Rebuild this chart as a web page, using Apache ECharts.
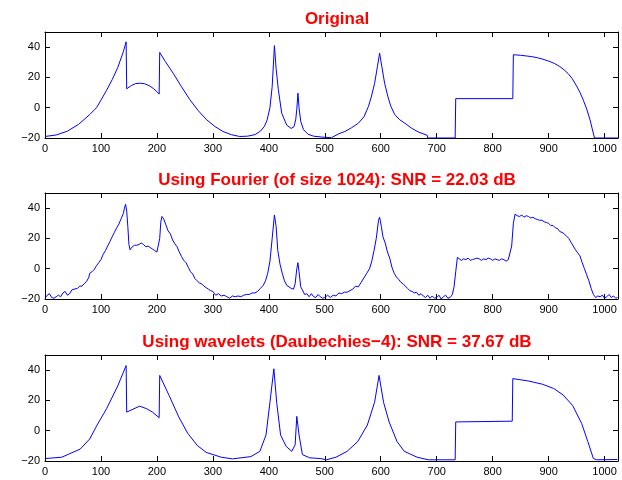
<!DOCTYPE html>
<html>
<head>
<meta charset="utf-8">
<script src="https://cdn.jsdelivr.net/npm/echarts@6/dist/echarts.min.js"></script>
<style>
html, body { margin: 0; padding: 0; background: #fff; }
#main { width: 622px; height: 480px; }
</style>
</head>
<body>
<div id="main"></div>
<script>
// panel titles
var titles = [
    'Original',
    'Using Fourier (of size 1024): SNR = 22.03 dB',
    'Using wavelets (Daubechies\u22124): SNR = 37.67 dB'
];

// original signal (sample index / value)
var origX = [0, 20, 40, 60, 80, 92, 100, 110, 120, 130, 140, 145,
    146, 155, 162, 170, 178, 186, 194, 200, 204,
    205, 215, 229, 244, 259, 274, 289, 304, 318, 333, 348, 362, 375, 385, 392, 397, 402, 406, 410,
    413, 417, 423, 432, 440, 445, 448, 450, 452, 454, 457, 462, 470, 480, 495, 512,
    513, 525, 536, 548, 560, 570, 578, 583, 589, 594, 598,
    602, 607, 613, 618, 625, 634, 643, 655, 667, 683,
    684, 733, 734, 836, 837, 850, 860, 870, 880, 890, 900, 910, 920, 928, 935, 942, 950, 956, 962, 968, 974, 978, 982, 1024];
var origY = [-19, -18, -15.5, -11, -4.5, 0, 5, 11.5, 18.5, 26.5, 37, 43.5,
    12.5, 14.8, 15.9, 16.2, 15.8, 14.6, 12.6, 10.6, 9,
    36.5, 30.5, 22.8, 13.8, 5.2, -2, -8, -12.5, -15.7, -17.8, -19, -18.8, -17.8, -15.5, -12.4, -8, 0, 14, 41,
    26, 12, -3.6, -11.5, -13.7, -12.5, -8, -1, 9.6, 0, -9, -14.5, -17.5, -18.8, -19.4, -19.8,
    -18.6, -17.2, -15.7, -13.2, -10.2, -6, 0.8, 7, 16, 27, 36,
    27, 16, 7, 1, -4.5, -8, -10.2, -13.5, -16, -18.2,
    -20, -20, 6, 6, 35, 34.6, 34.2, 33.7, 33, 32, 30.8, 29.3, 27.2, 24.9, 22.5, 19.3, 14.3, 10.2, 5, -0.8, -8, -14, -20, -20];

// fourier reconstruction
var fourX = [0, 4, 8, 12, 16, 20, 24, 28, 32, 36, 40, 44, 48, 52, 58, 62, 66, 70, 74, 78,
    80, 84, 88, 92, 96, 100, 104, 108, 112, 116, 120, 124, 128, 132, 136, 140, 142, 144, 146, 148,
    150, 152, 156, 160, 164, 168, 172, 176, 180, 184, 188, 192, 196, 200, 203, 205, 207, 209, 212, 216,
    220, 224, 228, 232, 236, 240, 244, 248, 252, 256, 260, 264, 268, 272, 276, 280, 284, 288, 292, 296,
    300, 305, 310, 315, 320, 325, 330, 335, 340, 345, 350, 355, 360, 365, 370, 375, 380, 385, 390, 394,
    398, 402, 406, 410, 413, 416, 420, 424, 428, 432, 436, 440, 444, 447, 450, 452, 454, 457, 460, 464,
    468, 472, 476, 480, 484, 488, 492, 496, 500, 505, 510, 515, 520, 525, 530, 535, 540, 545, 550, 555,
    560, 565, 570, 575, 580, 584, 588, 592, 596, 598, 601, 604, 608, 612, 616, 620, 624, 628, 632, 636,
    640, 644, 648, 652, 656, 660, 664, 668, 672, 676, 680, 684, 688, 692, 696, 700, 704, 708, 712, 716,
    720, 724, 728, 731, 734, 737, 740, 744, 748, 752, 756, 760, 764, 768, 772, 776, 780, 784, 788, 792,
    796, 800, 804, 808, 812, 816, 820, 824, 828, 831, 834, 837, 840, 844, 848, 852, 856, 860, 864, 868,
    872, 876, 880, 884, 888, 892, 896, 900, 904, 908, 912, 916, 920, 924, 928, 932, 936, 940, 944, 948,
    952, 956, 960, 964, 968, 972, 976, 980, 984, 988, 992, 996, 1000, 1004, 1008, 1012, 1016, 1020, 1023];
var fourY = [-19.5, -17.5, -16.5, -19, -19.5, -18.5, -17.5, -18.5, -16, -15, -17.5, -16.5, -14, -13.5, -13, -11.5, -11.5, -10, -8.5, -6,
    -3, -2, -0.5, 2, 4, 6, 9.5, 12, 15, 18, 21, 24, 27, 29.5, 33, 36.5, 40, 42.5, 38, 28,
    16, 12.5, 14.5, 15.5, 15.5, 16, 17, 16, 14.5, 15, 14, 13, 12, 11, 10.5, 20, 31, 34.5, 33, 29,
    25, 23, 19, 16.5, 14.5, 11, 8, 5.5, 4, 1, -2, -3.5, -6.5, -8, -9.5, -10, -11.5, -12.5, -13.5, -14.5,
    -15, -17.5, -16.5, -18, -17.5, -18.5, -19.5, -18, -18.5, -18, -18.5, -17.5, -17, -17, -16, -16, -15, -13, -11, -8,
    -3, 5, 20, 35.5, 28, 12, 3, -3, -8, -11, -12, -13, -13.5, -10, 0, 4, -2, -12, -14, -17,
    -16.5, -18.5, -16.5, -18.5, -19, -17, -18.5, -19.5, -19, -17.5, -19, -17.5, -18, -16, -16.5, -15.5, -15.5, -14.5, -13.5, -11.5,
    -12, -9, -6, -3, 0, 5, 12, 20, 32, 34, 28, 21, 17, 11, 7, 1, -3, -5.5, -7, -9,
    -10, -11.5, -13, -14.5, -15, -16, -15.5, -17.5, -16.5, -18, -19, -17.5, -19.5, -18, -19.5, -19, -17.5, -20, -18.5, -17.5,
    -19.5, -19, -17, -12, -2, 7.5, 6.5, 5.5, 6.5, 6, 7, 5.5, 6, 6.5, 7, 6.5, 5.5, 6.5, 6, 7,
    6.5, 5.5, 6.5, 6, 5.5, 6.5, 6, 5, 6, 5, 15, 30, 36, 35, 34.5, 35.5, 34, 35, 34.5, 33.5,
    34, 33, 32.5, 32, 32, 31, 30.5, 30, 28.5, 28.5, 27, 26.5, 24.5, 24, 23, 21.5, 20, 17.5, 15, 12.5,
    10.5, 8.5, 4, 0, -4, -8, -13, -17, -19, -18, -18.5, -17.5, -19.5, -18.5, -17, -19, -18, -19.5, -19];

// wavelet reconstruction
var waveX = [0, 30, 63, 80, 93, 110, 130, 145, 146, 169, 182, 192, 204, 205, 222, 239, 255, 272, 288, 315,
    335, 368, 384, 395, 402, 409, 414, 421, 431, 441, 447, 450, 454, 460, 473, 493, 503, 520, 540, 559,
    576, 589, 597, 605, 615, 629, 642, 665, 685, 733, 734, 835, 836, 863, 889, 909, 926, 943, 959, 970,
    980, 986, 1023];
var waveY = [-18.4, -17.5, -12.1, -5.4, 3.7, 14.5, 29.6, 43, 12.3, 16.2, 14.5, 12.3, 8.6, 36.5, 23.1, 9.1, -1.7, -9.7, -14.3, -17.5,
    -18.6, -17.1, -13.6, -2.8, 18.8, 40.9, 18.8, -2.8, -10.4, -13.6, -9.3, 9.5, -2.8, -15.8, -17.9, -18.4, -19.2, -17.5, -13.6, -7.1,
    3.7, 18.8, 36.5, 18.8, 5.8, -7.1, -13.6, -17.5, -19.2, -19.2, 5.8, 6.3, 34.4, 32.9, 30.7, 27.9, 23.6, 16.6, 4.8, -7.1,
    -18.4, -19.2, -19];

var xTickStep = 100;
var yTickStep = 20;

var chart = echarts.init(document.getElementById('main'));

var gridTops = [32, 193, 355];
var titleTops = [6, 167, 329];
var font = 'Liberation Sans, Arial, Helvetica, sans-serif';

function pairs(xs, ys) {
    return xs.map(function (x, i) { return [x, ys[i]]; });
}
var allData = [pairs(origX, origY), pairs(fourX, fourY), pairs(waveX, waveY)];

var option = {
    animation: false,
    backgroundColor: '#fff',
    title: [],
    grid: [],
    xAxis: [],
    yAxis: [],
    series: []
};

for (var i = 0; i < 3; i++) {
    option.title.push({
        text: titles[i],
        left: 332,
        top: titleTops[i],
        textAlign: 'center',
        textStyle: { color: '#ff0000', fontSize: 17, fontWeight: 'bold', fontFamily: font }
    });
    option.grid.push({ left: 45, width: 573, top: gridTops[i], height: 106 });

    var lineStyle = { color: '#000', width: 1 };
    // bottom x axis with labels
    option.xAxis.push({
        type: 'value', gridIndex: i, position: 'bottom', min: 0, max: 1024, interval: xTickStep,
        axisLine: { show: true, onZero: false, lineStyle: lineStyle },
        axisTick: { show: true, inside: true, length: 5, lineStyle: lineStyle },
        splitLine: { show: false },
        axisLabel: {
            margin: 5, color: '#000', fontSize: 11, fontFamily: font,
            formatter: function (v) { return v > 1000 ? '' : v; }
        }
    });
    // top x axis, ticks only
    option.xAxis.push({
        type: 'value', gridIndex: i, position: 'top', min: 0, max: 1024, interval: xTickStep,
        axisLine: { show: true, onZero: false, lineStyle: lineStyle },
        axisTick: { show: true, inside: true, length: 5, lineStyle: lineStyle },
        splitLine: { show: false },
        axisLabel: { show: false }
    });
    option.yAxis.push({
        type: 'value', gridIndex: i, position: 'left', min: -20, max: 50, interval: yTickStep,
        axisLine: { show: true, onZero: false, lineStyle: lineStyle },
        axisTick: { show: true, inside: true, length: 5, lineStyle: lineStyle },
        splitLine: { show: false },
        axisLabel: {
            margin: 5, color: '#000', fontSize: 11, fontFamily: font,
            formatter: function (v) {
                if (v === 50) return '';
                return v < 0 ? '\u2212' + (-v) : '' + v;
            }
        }
    });
    option.yAxis.push({
        type: 'value', gridIndex: i, position: 'right', min: -20, max: 50, interval: yTickStep,
        axisLine: { show: true, onZero: false, lineStyle: lineStyle },
        axisTick: { show: true, inside: true, length: 5, lineStyle: lineStyle },
        splitLine: { show: false },
        axisLabel: { show: false }
    });
    option.series.push({
        type: 'line',
        xAxisIndex: i * 2,
        yAxisIndex: i * 2,
        data: allData[i],
        showSymbol: false,
        symbol: 'none',
        lineStyle: { color: '#0000ff', width: 1 },
        clip: true
    });
}

chart.setOption(option);
</script>
</body>
</html>
